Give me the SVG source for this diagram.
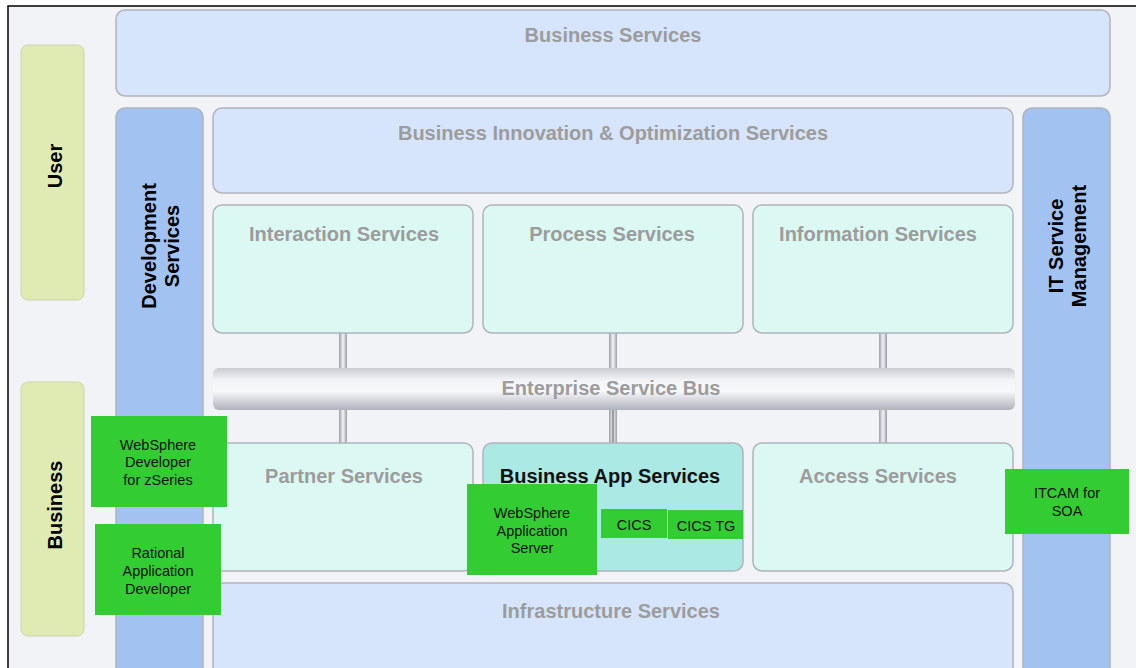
<svg xmlns="http://www.w3.org/2000/svg" width="1136" height="668" viewBox="0 0 1136 668">
<defs>
<linearGradient id="esb" x1="0" y1="0" x2="0" y2="1">
<stop offset="0" stop-color="#c9cbd2"/>
<stop offset="0.3" stop-color="#f4f5f8"/>
<stop offset="0.55" stop-color="#f7f8fa"/>
<stop offset="1" stop-color="#b0b2bc"/>
</linearGradient>
<linearGradient id="pipe" x1="0" y1="0" x2="1" y2="0">
<stop offset="0" stop-color="#9a9ca6"/>
<stop offset="0.5" stop-color="#f5f5f8"/>
<stop offset="1" stop-color="#9a9ca6"/>
</linearGradient>
</defs>
<style>
.lb{fill:#d6e5fb;stroke:#b0b4bd;stroke-width:1.5}
.db{fill:#a2c2f1;stroke:#b0b4bd;stroke-width:1.5}
.cy{fill:#dbf8f3;stroke:#b0b4bd;stroke-width:1.5}
.cyd{fill:#abe9e4;stroke:#b0b4bd;stroke-width:1.5}
.yg{fill:#e0ebb4;stroke:#cdd3ad;stroke-width:1}
.gr{fill:#33cc33}
.h{font-family:"Liberation Sans",Arial,sans-serif;font-weight:bold;font-size:20px;fill:#9c9c9c;text-anchor:middle}
.hk{font-family:"Liberation Sans",Arial,sans-serif;font-weight:bold;font-size:20px;fill:#111;text-anchor:middle}
.v{font-family:"Liberation Sans",Arial,sans-serif;font-weight:bold;font-size:20px;fill:#000;text-anchor:middle}
.g{font-family:"Liberation Sans",Arial,sans-serif;font-size:14.5px;fill:#111;text-anchor:middle}
</style>
<rect x="0" y="0" width="1136" height="668" fill="#ffffff"/>
<rect x="8" y="6" width="1140" height="670" fill="#f2f3f6" stroke="#000" stroke-width="1.5"/>

<g id="user"><rect class="yg" x="21" y="45" width="63" height="255" rx="7"/><text class="v" transform="translate(62,166) rotate(-90)">User</text></g>
<g id="business"><rect class="yg" x="21" y="382" width="63" height="254" rx="7"/><text class="v" transform="translate(62,505) rotate(-90)">Business</text></g>

<g id="business-services"><rect class="lb" x="116" y="10" width="994" height="86" rx="9"/><text class="h" x="613" y="42">Business Services</text></g>
<g id="development-services"><rect class="db" x="116" y="108" width="87" height="575" rx="9"/><text class="v" transform="translate(156,246) rotate(-90)"><tspan x="0" y="0">Development</tspan><tspan x="0" y="23">Services</tspan></text></g>
<g id="it-service-management"><rect class="db" x="1023" y="108" width="87" height="575" rx="9"/><text class="v" transform="translate(1063,246) rotate(-90)"><tspan x="0" y="0">IT Service</tspan><tspan x="0" y="23">Management</tspan></text></g>

<g id="bio"><rect class="lb" x="213" y="108" width="800" height="85" rx="9"/><text class="h" x="613" y="140">Business Innovation &amp; Optimization Services</text></g>

<g id="connectors">
<rect x="339" y="333" width="8" height="36" fill="url(#pipe)"/>
<rect x="609" y="333" width="8" height="36" fill="url(#pipe)"/>
<rect x="879" y="333" width="8" height="36" fill="url(#pipe)"/>
<rect x="339" y="409" width="8" height="35" fill="url(#pipe)"/>
<rect x="609" y="409" width="8" height="35" fill="url(#pipe)"/>
<line x1="613" y1="409" x2="613" y2="444" stroke="#555" stroke-width="1"/>
<rect x="879" y="409" width="8" height="35" fill="url(#pipe)"/>
</g>

<g id="interaction"><rect class="cy" x="213" y="205" width="260" height="128" rx="9"/><text class="h" x="344" y="241">Interaction Services</text></g>
<g id="process"><rect class="cy" x="483" y="205" width="260" height="128" rx="9"/><text class="h" x="612" y="241">Process Services</text></g>
<g id="information"><rect class="cy" x="753" y="205" width="260" height="128" rx="9"/><text class="h" x="878" y="241">Information Services</text></g>

<g id="esb-node"><rect x="213" y="368" width="802" height="42" rx="6" fill="url(#esb)"/><text class="h" x="611" y="395">Enterprise Service Bus</text></g>

<g id="partner"><rect class="cy" x="213" y="443" width="260" height="128" rx="9"/><text class="h" x="344" y="483">Partner Services</text></g>
<g id="business-app"><rect class="cyd" x="483" y="443" width="260" height="128" rx="9"/><text class="hk" x="610" y="483">Business App Services</text></g>
<g id="access"><rect class="cy" x="753" y="443" width="260" height="128" rx="9"/><text class="h" x="878" y="483">Access Services</text></g>

<g id="infrastructure"><rect class="lb" x="213" y="583" width="800" height="100" rx="9"/><text class="h" x="611" y="618">Infrastructure Services</text></g>

<g id="wdz"><rect class="gr" x="91" y="416" width="136" height="91"/><text class="g"><tspan x="158" y="450">WebSphere</tspan><tspan x="158" y="467">Developer</tspan><tspan x="158" y="485">for zSeries</tspan></text></g>
<g id="rad"><rect class="gr" x="95" y="524" width="126" height="91"/><text class="g"><tspan x="158" y="558">Rational</tspan><tspan x="158" y="576">Application</tspan><tspan x="158" y="594">Developer</tspan></text></g>
<g id="was"><rect class="gr" x="467" y="484" width="130" height="91"/><text class="g"><tspan x="532" y="518">WebSphere</tspan><tspan x="532" y="536">Application</tspan><tspan x="532" y="553">Server</tspan></text></g>
<g id="cics"><rect class="gr" x="601" y="509" width="66" height="29"/><text class="g" x="634" y="530">CICS</text></g>
<g id="cicstg"><rect class="gr" x="668" y="510" width="75" height="29"/><text class="g" x="706" y="531">CICS TG</text></g>
<g id="itcam"><rect class="gr" x="1005" y="469" width="124" height="65"/><text class="g"><tspan x="1067" y="498">ITCAM for</tspan><tspan x="1067" y="516">SOA</tspan></text></g>
</svg>
